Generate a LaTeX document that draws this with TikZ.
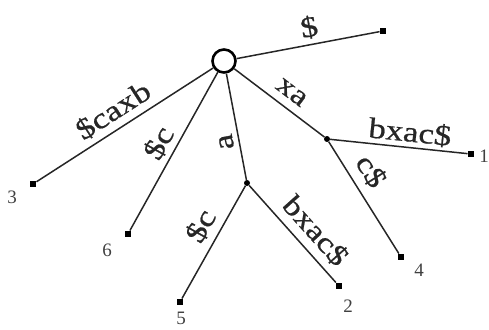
\documentclass[tikz,border=0pt]{standalone}
\usepackage{fontspec}
\setmainfont{Liberation Serif}
\newfontfamily\lblfont[FakeBold=0.6]{Liberation Serif}
\newcommand{\stx}[1]{\scalebox{1.2}[1]{#1}}
\begin{document}
\begin{tikzpicture}[x=1pt,y=-1pt,
 edge/.style={line width=1.5pt, draw=black!85},
 leaf/.style={fill=black, rectangle, inner sep=0pt, minimum size=6.5pt},
 innernode/.style={fill=black, circle, inner sep=0pt, minimum size=6pt},
 rootnode/.style={circle, draw=black, line width=2.6pt, minimum size=23pt, inner sep=0pt, fill=white},
 lbl/.style={font=\lblfont\fontsize{29}{29}\selectfont, sloped, inner sep=5pt, text=black!85},
 num/.style={font=\fontsize{19}{19}\selectfont, inner sep=0pt, text=black!75}]
\useasboundingbox (0,0) rectangle (489,329);
\node[rootnode] (r) at (224,61) {};
\node[leaf] (l0) at (383,31) {};
\node[leaf] (l3) at (33,184) {};
\node[leaf] (l6) at (128,234) {};
\node[innernode] (na) at (247,183) {};
\node[leaf] (l5) at (180,302) {};
\node[leaf] (l2) at (339,286) {};
\node[innernode] (nx) at (327,139) {};
\node[leaf] (l1) at (471,154) {};
\node[leaf] (l4) at (401,257) {};
\node[num] (t3) at (12,197) {3};
\node[num] (t6) at (107,250) {6};
\node[num] (t5) at (181,318) {5};
\node[num] (t2) at (348,306) {2};
\node[num] (t4) at (419,270) {4};
\node[num] (t1) at (484,156) {1};
\draw[edge] (r) -- node[lbl, above, pos=0.53] {\stx{\$}} (l0);
\draw[edge] (l3) -- node[lbl, above, pos=0.49, inner sep=6pt] {\stx{\$caxb}} (r);
\draw[edge] (l6) -- node[lbl, above, pos=0.5] {\stx{\$c}} (r);
\draw[edge] (na) -- node[lbl, above, pos=0.38, allow upside down] {\stx{a}} (r);
\draw[edge] (r) -- node[lbl, above, pos=0.53, inner sep=8pt] {\stx{xa}} (nx);
\draw[edge] (nx) -- node[lbl, above, pos=0.57, inner sep=3pt] {\stx{bxac\$}} (l1);
\draw[edge] (nx) -- node[lbl, above, pos=0.36, inner sep=8pt] {\stx{c\$}} (l4);
\draw[edge] (l5) -- node[lbl, above, pos=0.56, inner sep=7pt] {\stx{\$c}} (na);
\draw[edge] (na) -- node[lbl, above, pos=0.6, inner sep=7pt] {\stx{bxac\$}} (l2);
\end{tikzpicture}
\end{document}
